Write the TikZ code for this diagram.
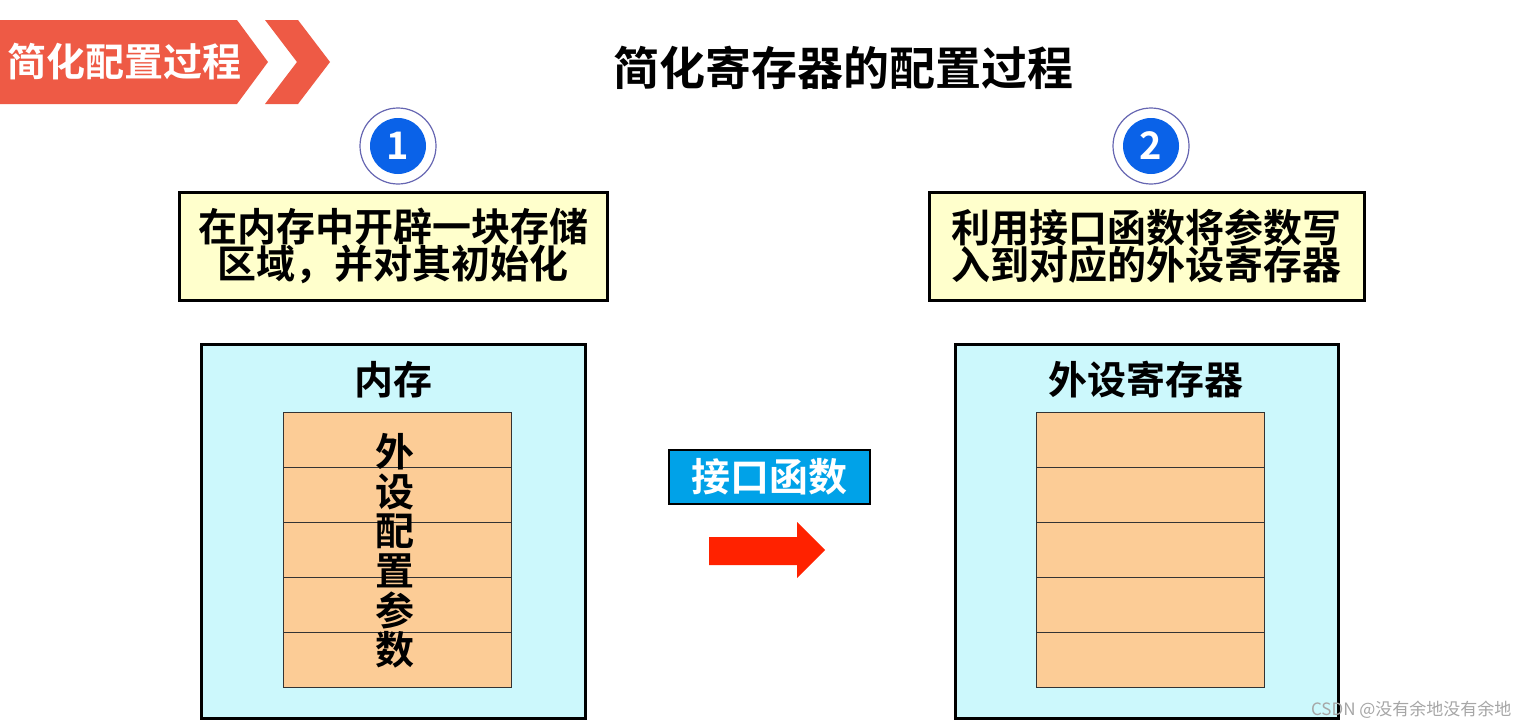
\documentclass[tikz,border=0pt]{standalone}
\usepackage{fontspec}
\setmainfont{Noto Sans CJK SC}[BoldFont={Noto Sans CJK SC Bold}]
\definecolor{banner}{HTML}{EE5A45}
\definecolor{cblue}{HTML}{0A62E8}
\definecolor{ylw}{HTML}{FFFFCC}
\definecolor{cyanbox}{HTML}{CCF8FC}
\definecolor{orng}{HTML}{FCCC96}
\definecolor{ifblue}{HTML}{00A2E8}
\definecolor{arrred}{HTML}{FF2200}
\tikzset{
  fs/.style={font=\fontsize{#1}{#1}\selectfont\bfseries},
  note/.style={draw=black,line width=3pt,fill=ylw,align=center,fs=39,inner sep=0pt},
  outer/.style={draw=black,line width=3pt,fill=cyanbox},
  cell/.style={draw=black!80,line width=1pt,fill=orng,minimum width=228pt,minimum height=55pt,inner sep=0pt},
}
\begin{document}
\begin{tikzpicture}[x=1pt,y=-1pt]
\useasboundingbox (0,0) rectangle (1529,728);
\fill[white] (0,0) rectangle (1529,728);
% banner
\fill[banner] (0,20)--(237,20)--(268,62)--(237,104)--(0,104)--cycle;
\fill[banner] (265,20)--(298,20)--(330,62)--(298,104)--(265,104)--(297,62)--cycle;
\node[fs=39,text=white] (ban) at (125,62) {简化配置过程};
\node[fs=46] (title) at (843,68) {简化寄存器的配置过程};
% circles
\foreach \n/\cx in {1/398,2/1151}{
  \draw[draw=black!50!blue!60,line width=1.2pt,fill=white] (\cx,146) circle (38);
  \node[circle,fill=cblue,minimum size=56pt,inner sep=0pt,text=white,fs=38] (c\n) at (\cx,146) {\n};
}
% notes
\node[note,minimum width=428pt,minimum height=108pt] (n1) at (393,246) {在内存中开辟一块存储\\[-2pt]区域，并对其初始化};
\node[note,minimum width=435pt,minimum height=108pt] (n2) at (1146.5,246) {利用接口函数将参数写\\[-2pt]入到对应的外设寄存器};
% outer boxes
\draw[outer] (201,344) rectangle (585,718);
\draw[outer] (955,344) rectangle (1338,718);
\node[fs=39] (mem) at (393,380) {内存};
\node[fs=39] (reg) at (1146,380) {外设寄存器};
\foreach \i in {0,...,4}{
  \node[cell] (l\i) at (397,439.5+55*\i) {};
  \node[cell] (r\i) at (1150.5,439.5+55*\i) {};
}
\foreach \ch [count=\k from 0] in {外,设,配,置,参,数}{
  \node[fs=39] (v\k) at (395,452+39.6*\k) {\ch};
}
% interface
\node[draw=black,line width=1.2pt,fill=ifblue,text=white,fs=39,minimum width=201pt,minimum height=54pt,inner sep=0pt] (if) at (769.5,477) {接口函数};
\fill[arrred] (709,537)--(797,537)--(797,522)--(825,550)--(797,578)--(797,565)--(709,565)--cycle;
\node[text=black!35,font=\fontsize{17}{17}\selectfont,anchor=east] (wm) at (1515,710) {CSDN @没有余地没有余地};
\end{tikzpicture}
\end{document}
